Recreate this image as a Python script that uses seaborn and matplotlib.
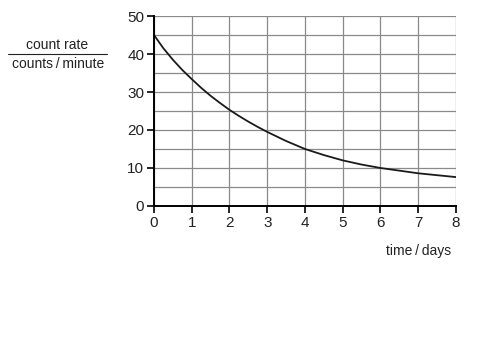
import matplotlib
matplotlib.use("Agg")
import matplotlib.pyplot as plt
import seaborn as sns
import pandas as pd

days = [0, 0.25, 0.5, 0.75, 1, 1.25, 1.5, 1.75, 2, 2.25, 2.5, 2.75, 3,
        3.5, 4, 4.5, 5, 5.5, 6, 6.5, 7, 7.5, 8]
count_rate = [45, 41.5, 38.5, 35.8, 33.4, 31.1, 29.0, 27.1, 25.3, 23.7, 22.2, 20.8, 19.5,
              17.1, 15.0, 13.4, 12.0, 10.9, 10.0, 9.3, 8.6, 8.1, 7.6]
x_ticks = [0, 1, 2, 3, 4, 5, 6, 7, 8]
y_ticks = [0, 10, 20, 30, 40, 50]
y_grid = [0, 5, 10, 15, 20, 25, 30, 35, 40, 45, 50]

sns.set_style("white")
plt.rcParams['font.family'] = ['Liberation Sans', 'DejaVu Sans']

df = pd.DataFrame({"time": days, "rate": count_rate})

fig = plt.figure(figsize=(4.94, 3.41), dpi=100)
ax = fig.add_axes([0.3117, 0.396, 0.6113, 0.557])

for yv in y_grid:
    ax.axhline(yv, color="#8a8a8a", lw=0.9, zorder=0)
for xv in x_ticks:
    ax.axvline(xv, color="#8a8a8a", lw=0.9, zorder=0)

sns.lineplot(data=df, x="time", y="rate", ax=ax, color="#1a1a1a", lw=1.3)

ax.set_xlim(0, 8)
ax.set_ylim(0, 50)
ax.set_xticks(x_ticks)
ax.set_yticks(y_ticks)
ax.set_xlabel("")
ax.set_ylabel("")
for s in ["top", "right"]:
    ax.spines[s].set_visible(False)
for s in ["left", "bottom"]:
    ax.spines[s].set_color("black")
    ax.spines[s].set_linewidth(1.4)
ax.tick_params(axis="both", direction="out", length=5, width=1.2, color="black",
               labelsize=11, labelcolor="#222222", pad=2, left=True, bottom=True)

fig.text(0.115, 0.868, "count rate", ha="center", va="center", fontsize=10, color="#222222")
fig.add_artist(plt.Line2D([0.016, 0.217], [0.842, 0.842], color="#222222", lw=0.8, transform=fig.transFigure))
fig.text(0.117, 0.812, "counts\u2009/\u2009minute", ha="center", va="center", fontsize=10, color="#222222")
fig.text(0.848, 0.265, "time\u2009/\u2009days", ha="center", va="center", fontsize=10, color="#222222")

fig.savefig("out.png", dpi=100)
